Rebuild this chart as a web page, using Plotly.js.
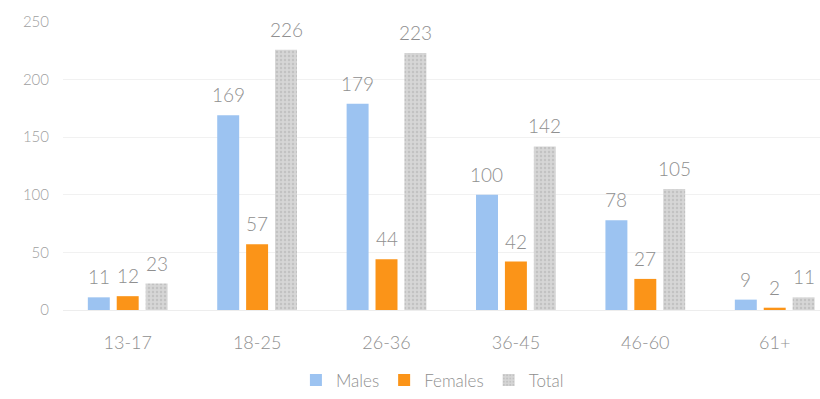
<!DOCTYPE html>
<html>
<head>
<meta charset="utf-8">
<script src="https://cdn.plot.ly/plotly-3.0.1.min.js"></script>
<style>
  html, body { margin: 0; padding: 0; background: #fff; }
  #chart { width: 820px; height: 399px; }
</style>
</head>
<body>
<div id="chart"></div>
<script>
// Age groups and counts per group
const ageGroups = ['13-17', '18-25', '26-36', '36-45', '46-60', '61+'];
const males   = [11, 169, 179, 100, 78, 9];
const females = [12, 57, 44, 42, 27, 2];
const total   = [23, 226, 223, 142, 105, 11];
const seriesNames = ['Males', 'Females', 'Total'];
const yTicks = [0, 50, 100, 150, 200, 250];

const FONT = 'Lato, "Open Sans", sans-serif';
const GREY_TEXT = '#8f8f8f';

const colors = ['#9cc3f1', '#fb9418', '#d3d3d3'];
const seriesValues = [males, females, total];

const traces = seriesValues.map((vals, i) => {
  const marker = { color: colors[i], line: { width: 0 } };
  if (i === 2) {
    marker.pattern = { shape: '.', bgcolor: '#d6d6d6', fgcolor: '#c2c2c2', size: 4, solidity: 0.3 };
  }
  return {
    type: 'bar',
    name: seriesNames[i],
    x: ageGroups,
    y: vals,
    marker: marker,
    hoverinfo: 'x+y+name'
  };
});

// Value labels above each bar, offset to sit over its bar in the group
const slotPx = 29;
const annotations = [];
seriesValues.forEach((vals, i) => {
  vals.forEach((v, j) => {
    annotations.push({
      x: ageGroups[j], y: v, xref: 'x', yref: 'y',
      text: String(v), showarrow: false,
      xshift: (i - 1) * slotPx, yshift: 7,
      yanchor: 'bottom', xanchor: 'center',
      font: { family: FONT, size: 19, weight: 300, color: GREY_TEXT }
    });
  });
});

const layout = {
  width: 820, height: 399,
  margin: { l: 63, r: 0, t: 22, b: 86 },
  paper_bgcolor: '#ffffff', plot_bgcolor: '#ffffff',
  barmode: 'group',
  bargap: 0.33,
  bargroupgap: 0.24,
  font: { family: FONT, color: GREY_TEXT },
  xaxis: {
    type: 'category',
    range: [-0.5, 5.35],
    showgrid: false, zeroline: false,
    showline: true, linecolor: '#ededed', linewidth: 1,
    ticks: '',
    ticklabelstandoff: 16,
    tickfont: { family: FONT, size: 18, weight: 300, color: GREY_TEXT }
  },
  yaxis: {
    range: [0, 250],
    tickvals: yTicks,
    ticktext: yTicks.map(String),
    showgrid: true, gridcolor: '#f1f1f1', gridwidth: 1,
    zeroline: false, showline: false,
    ticks: '',
    ticklabelstandoff: 13,
    tickfont: { family: FONT, size: 15, weight: 300, color: '#a0a0a0' }
  },
  showlegend: true,
  legend: {
    orientation: 'h',
    x: 0.488, xanchor: 'center',
    y: -0.245, yanchor: 'middle',
    font: { family: FONT, size: 17, weight: 300, color: GREY_TEXT },
    itemwidth: 30
  },
  annotations: annotations
};

Plotly.newPlot('chart', traces, layout, { displayModeBar: false, staticPlot: true });
</script>
</body>
</html>
